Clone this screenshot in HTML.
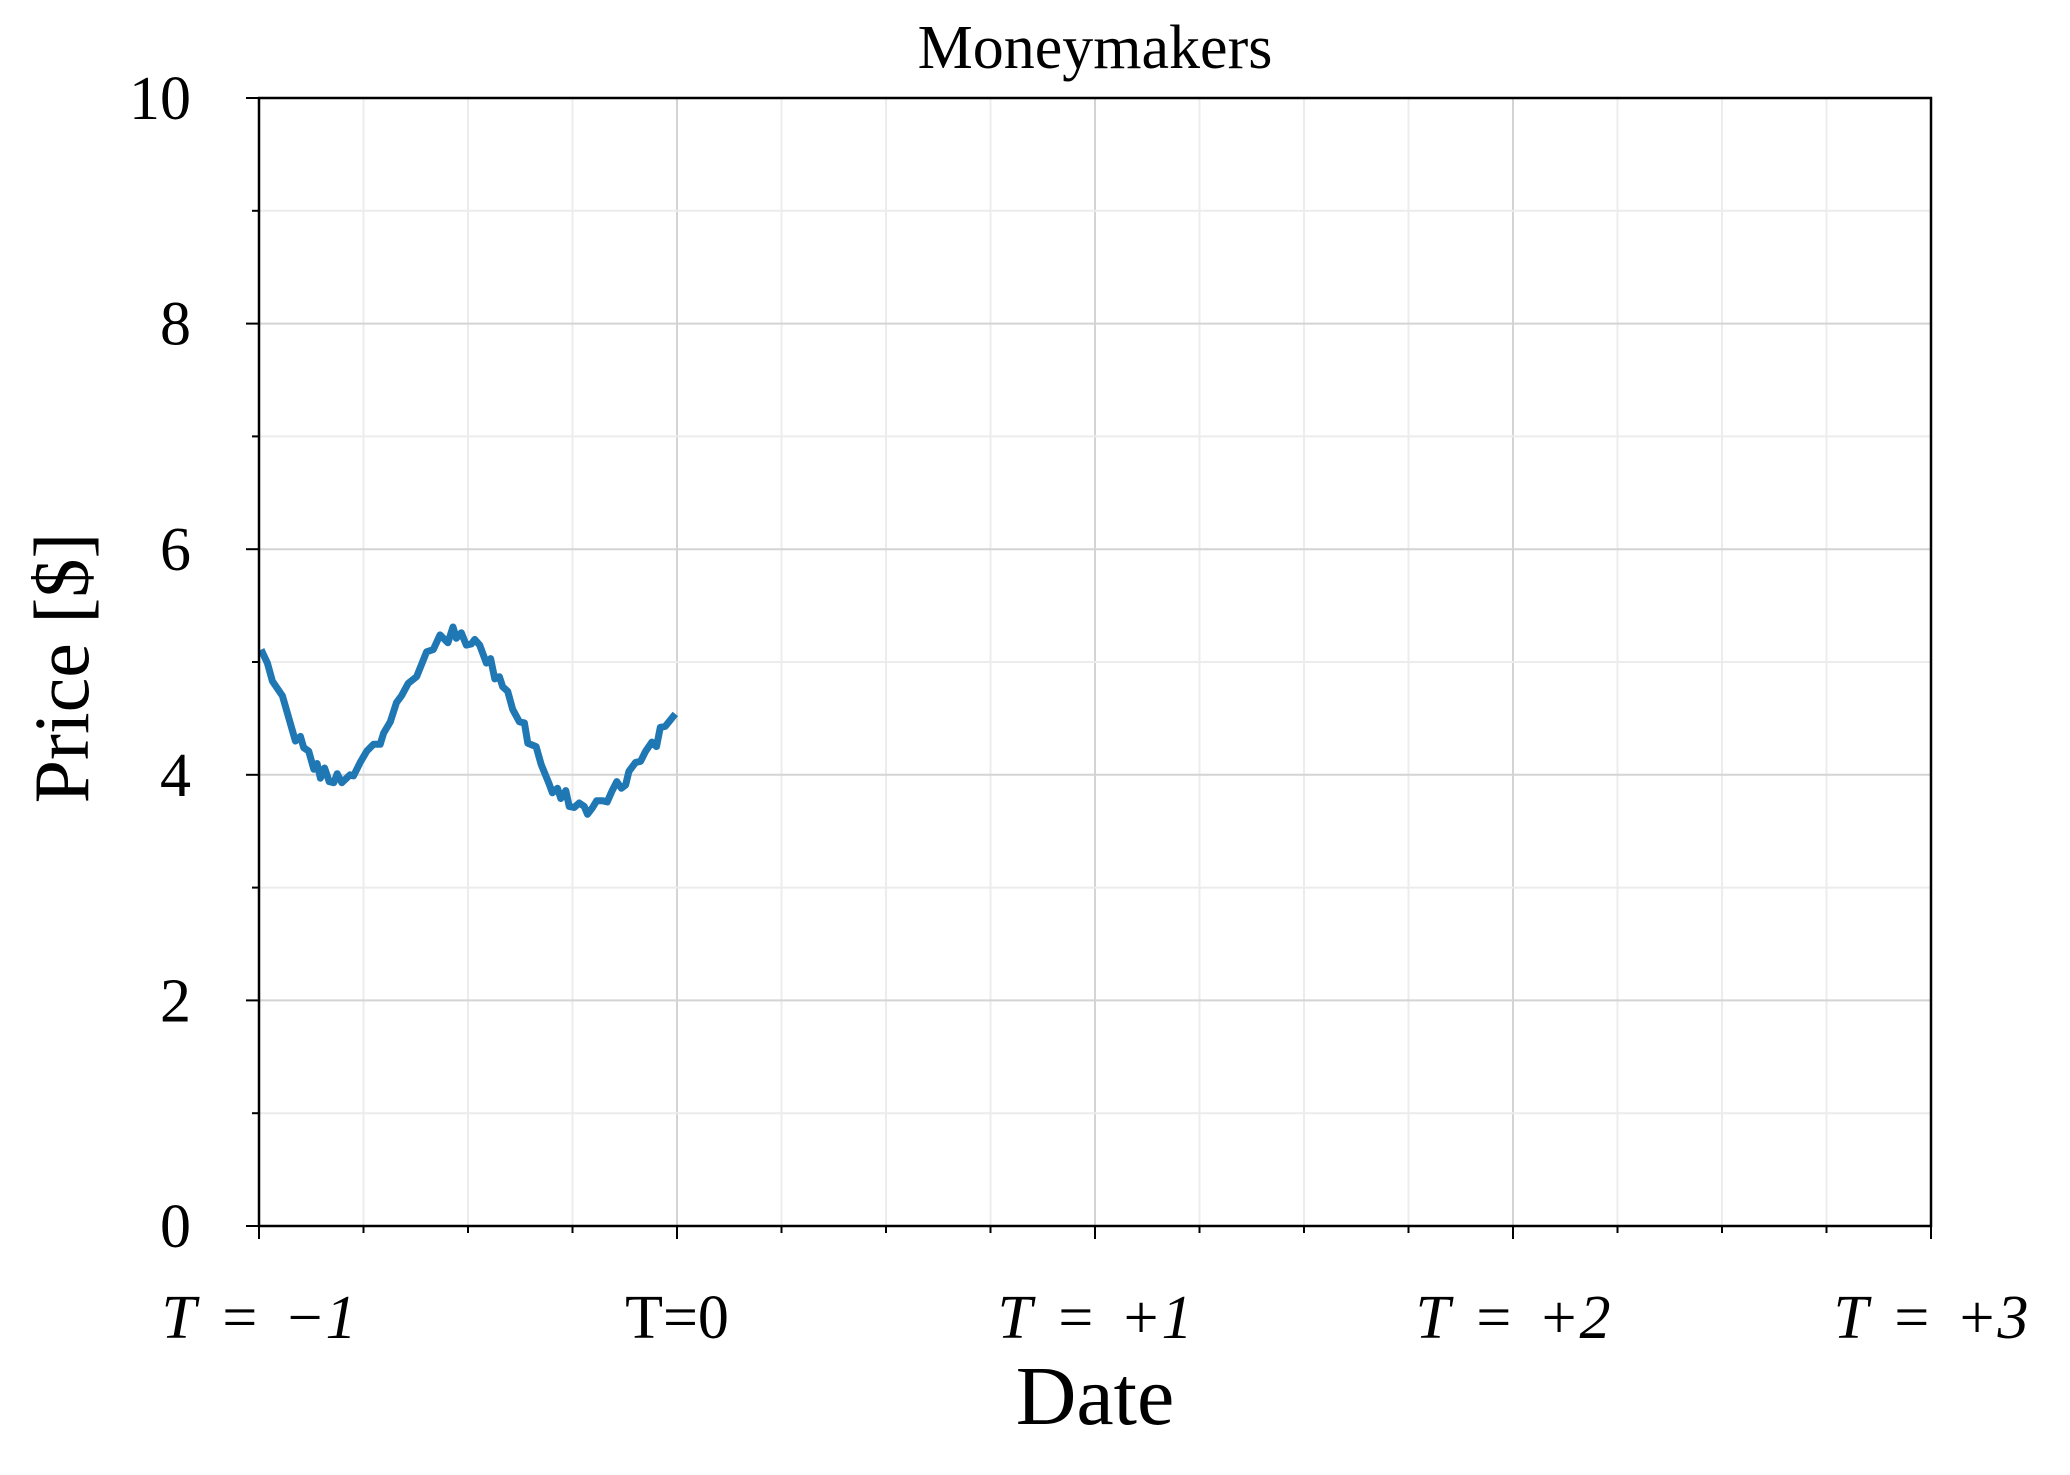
<!DOCTYPE html>
<html><head><meta charset="utf-8"><style>
html,body{margin:0;padding:0;background:#fff;}
svg text{font-family:"Liberation Serif",serif;fill:#000;}
</style></head><body>
<svg id="chart" width="2070" height="1470" viewBox="0 0 2070 1470">
<g id="grid"></g>
<g id="series"></g>
<g id="axes"></g>
<text x="1095" y="68" text-anchor="middle" font-size="62">Moneymakers</text>
<text x="1095" y="1424" text-anchor="middle" font-size="84">Date</text>
<text transform="translate(88,668) rotate(-90)" text-anchor="middle" font-size="78">Price [$]</text>
</svg>
<script>
const dates = [-0.995,-0.980,-0.968,-0.944,-0.913,-0.901,-0.893,-0.881,-0.869,-0.861,-0.853,-0.843,-0.832,-0.821,-0.813,-0.802,-0.782,-0.774,-0.758,-0.742,-0.726,-0.710,-0.702,-0.686,-0.671,-0.659,-0.643,-0.623,-0.611,-0.599,-0.583,-0.567,-0.548,-0.536,-0.528,-0.516,-0.504,-0.492,-0.484,-0.472,-0.456,-0.446,-0.436,-0.425,-0.417,-0.405,-0.393,-0.377,-0.365,-0.357,-0.337,-0.325,-0.306,-0.298,-0.286,-0.278,-0.266,-0.258,-0.246,-0.234,-0.222,-0.214,-0.202,-0.192,-0.179,-0.167,-0.155,-0.144,-0.133,-0.123,-0.115,-0.099,-0.087,-0.075,-0.060,-0.049,-0.040,-0.028,-0.004];
const prices = [5.11,4.99,4.83,4.70,4.30,4.34,4.24,4.21,4.05,4.10,3.97,4.06,3.94,3.93,4.01,3.93,4.00,3.99,4.11,4.21,4.27,4.27,4.37,4.47,4.64,4.70,4.81,4.87,4.98,5.09,5.11,5.24,5.17,5.31,5.21,5.26,5.15,5.16,5.20,5.15,4.99,5.03,4.85,4.87,4.78,4.74,4.58,4.47,4.46,4.28,4.25,4.09,3.92,3.84,3.88,3.79,3.86,3.72,3.71,3.75,3.72,3.65,3.71,3.77,3.77,3.76,3.86,3.94,3.88,3.91,4.03,4.11,4.12,4.21,4.29,4.25,4.42,4.43,4.54];
const xTickValues = [-1,0,1,2,3];
const xTickLabels = ["T = \u22121","T=0","T = +1","T = +2","T = +3"];
const yTickValues = [0,2,4,6,8,10];
const yTickLabels = ["0","2","4","6","8","10"];

const L=259,R=1931,T=98,B=1226;
const xMin=-1,xMax=3,yMin=0,yMax=10;
const sx=v=>L+(v-xMin)/(xMax-xMin)*(R-L);
const sy=v=>B-(v-yMin)/(yMax-yMin)*(B-T);
const NS="http://www.w3.org/2000/svg";
function mk(tag,attrs,parent){const e=document.createElementNS(NS,tag);for(const k in attrs)e.setAttribute(k,attrs[k]);parent.appendChild(e);return e;}
const grid=document.getElementById('grid'),axes=document.getElementById('axes'),series=document.getElementById('series');
for(let v=xMin;v<=xMax+1e-9;v+=0.25){const major=Math.abs(v-Math.round(v))<1e-9;
 const g=mk('line',{x1:sx(v),x2:sx(v),y1:T,y2:B,stroke:major?'#d4d4d4':'#ececec','stroke-width':2},grid);
 
 
 const t=mk('line',{x1:sx(v),x2:sx(v),y1:B,y2:B+(major?13:7),stroke:'#000','stroke-width':2},axes);
 
 }
for(let v=yMin;v<=yMax+1e-9;v+=1){const major=v%2===0;
 const g=mk('line',{x1:L,x2:R,y1:sy(v),y2:sy(v),stroke:major?'#d4d4d4':'#ececec','stroke-width':2},grid);
 
 
 const t=mk('line',{x1:L-(major?13:7),x2:L,y1:sy(v),y2:sy(v),stroke:'#000','stroke-width':2},axes);
 
 }
const frame=mk('rect',{x:L,y:T,width:R-L,height:B-T,fill:'none',stroke:'#000','stroke-width':2.5},axes);


xTickValues.forEach((v,i)=>{const t=mk('text',{x:sx(v),y:1338,'text-anchor':'middle','font-size':62,'word-spacing':8},axes);
 t.textContent=xTickLabels[i];
 if(i!==1)t.setAttribute('font-style','italic');
 
 });
yTickValues.forEach((v,i)=>{const t=mk('text',{x:191,y:sy(v)+21,'text-anchor':'end','font-size':62},axes);
 t.textContent=yTickLabels[i];
 
 });
const d=dates.map((t,i)=>(i?'L':'M')+sx(t).toFixed(1)+' '+sy(prices[i]).toFixed(1)).join(' ');
const p=mk('path',{d:d,fill:'none',stroke:'#1f77b4','stroke-width':7,'stroke-linejoin':'round'},series);


</script>
</body></html>
